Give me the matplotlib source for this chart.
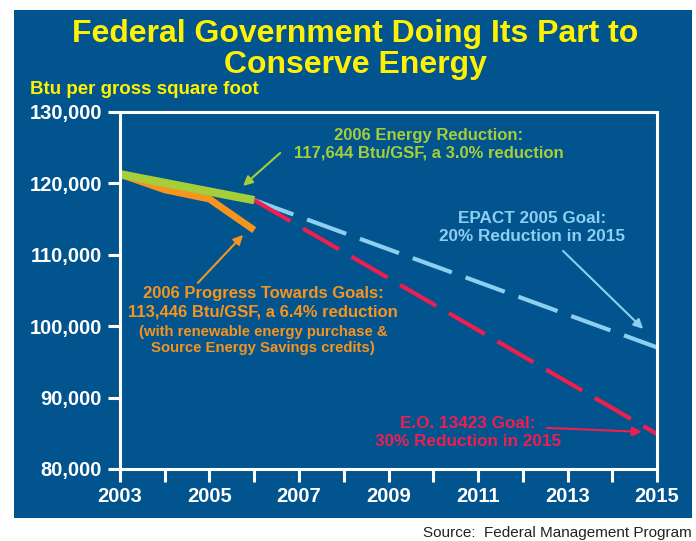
import matplotlib.pyplot as plt
from matplotlib.patches import Rectangle
from matplotlib.ticker import FuncFormatter

plt.rcParams['font.family'] = ['Liberation Sans', 'DejaVu Sans']

# data
years_actual = [2003, 2004, 2005, 2006]
energy_reduction = [121282, 120060, 118850, 117644]
progress_goals = [121282, 119100, 117800, 113446]
goal_years = [2006, 2015]
epact_goal = [117644, 97026]
eo_goal = [117644, 84897]

yticks = [80000, 90000, 100000, 110000, 120000, 130000]
xticks = list(range(2003, 2016))
xlabels = [str(y) if y % 2 == 1 else "" for y in xticks]

bg = "#02548F"
yellow = "#FFF200"
green = "#A6CE39"
orange = "#F7941D"
lightblue = "#8DCFF0"
red = "#EE1F4F"

fig = plt.figure(figsize=(6.96, 5.41), dpi=100)
fig.patch.set_facecolor("white")
fig.add_artist(Rectangle((0.020, 0.0425), 0.974, 0.939, transform=fig.transFigure,
                         facecolor=bg, edgecolor="none", zorder=-10))

ax = fig.add_axes([0.1724, 0.1331, 0.7716, 0.660])
ax.set_facecolor(bg)
ax.set_xlim(2003, 2015)
ax.set_ylim(80000, 130000)

ax.plot(goal_years, epact_goal, color=lightblue, lw=3, dashes=(10, 3.5))
ax.plot(goal_years, eo_goal, color=red, lw=3, dashes=(10, 3.5))
ax.plot(years_actual, progress_goals, color=orange, lw=5, solid_capstyle="butt")
ax.plot(years_actual, energy_reduction, color=green, lw=6, solid_capstyle="butt")

for s in ax.spines.values():
    s.set_color("white")
    s.set_linewidth(2.2)
ax.set_yticks(yticks)
ax.set_xticks(xticks)
ax.set_xticklabels(xlabels)
ax.yaxis.set_major_formatter(FuncFormatter(lambda v, p: f"{int(v):,}"))
ax.tick_params(colors="white", width=2.2, length=9, labelsize=14.5, pad=4)
for lab in ax.get_xticklabels() + ax.get_yticklabels():
    lab.set_fontweight("bold")
    lab.set_color("white")

fig.text(0.51, 0.908, "Federal Government Doing Its Part to\nConserve Energy",
         ha="center", va="center", color=yellow, fontsize=23, fontweight="bold",
         linespacing=1.05)
fig.text(0.043, 0.834, "Btu per gross square foot", color=yellow, fontsize=13.5,
         fontweight="bold", ha="left", va="center")

arrow = dict(arrowstyle="-|>", lw=1.5, shrinkA=0, shrinkB=0, mutation_scale=14)

# 2006 energy reduction
ax.text(2009.9, 125450, "2006 Energy Reduction:\n117,644 Btu/GSF, a 3.0% reduction",
        color=green, fontsize=12, fontweight="bold", ha="center", va="center",
        linespacing=1.25)
ax.annotate("", xy=(2005.75, 119640), xytext=(2006.58, 124260),
            arrowprops=dict(arrow, color=green))

# 2006 progress towards goals
ax.text(2006.2, 103260, "2006 Progress Towards Goals:\n113,446 Btu/GSF, a 6.4% reduction",
        color=orange, fontsize=12, fontweight="bold", ha="center", va="center",
        linespacing=1.25)
ax.text(2006.2, 98080, "(with renewable energy purchase &\nSource Energy Savings credits)",
        color=orange, fontsize=10.7, fontweight="bold", ha="center", va="center")
ax.annotate("", xy=(2005.75, 112780), xytext=(2004.74, 106060),
            arrowprops=dict(arrow, color=orange))

# EPACT goal
ax.text(2012.21, 113830, "EPACT 2005 Goal:\n20% Reduction in 2015",
        color=lightblue, fontsize=12.3, fontweight="bold", ha="center", va="center")
ax.annotate("", xy=(2014.69, 99620), xytext=(2012.9, 110540),
            arrowprops=dict(arrow, color=lightblue))

# E.O. goal
ax.text(2010.78, 85130, "E.O. 13423 Goal:\n30% Reduction in 2015",
        color=red, fontsize=12.3, fontweight="bold", ha="center", va="center")
ax.annotate("", xy=(2014.66, 85200), xytext=(2012.54, 85760),
            arrowprops=dict(arrow, color=red))

fig.text(0.994, 0.014, "Source:  Federal Management Program", ha="right", va="center",
         fontsize=11, color="#222222")

fig.savefig("out.png", dpi=100, facecolor=fig.get_facecolor())
